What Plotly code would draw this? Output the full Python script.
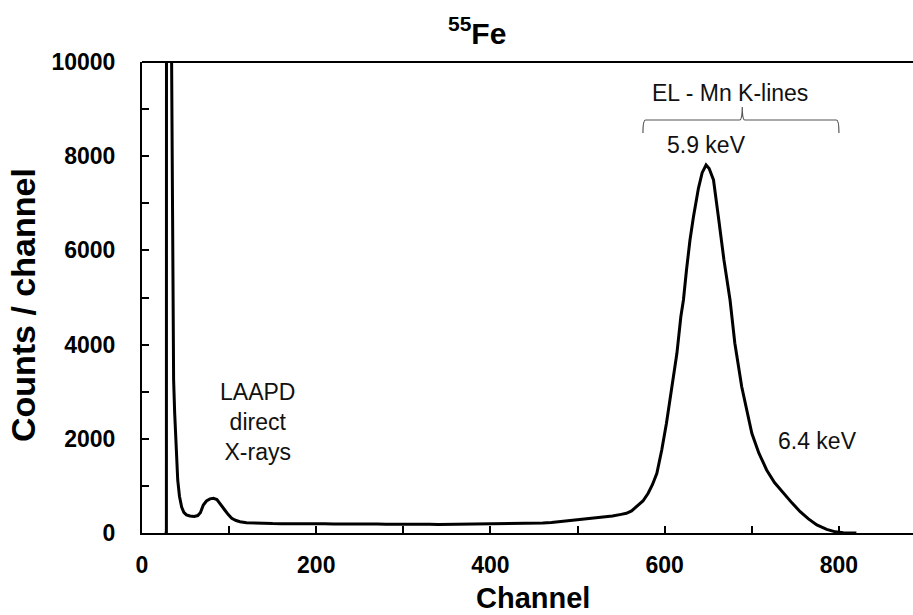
import plotly.graph_objects as go

# ---- data ----
channel = [26.0, 28.0, 28.3, 33.8, 34.0, 34.6, 35.5, 36.3, 37.5, 39, 41, 43, 45.5, 48, 51, 55, 60, 64, 67,
           70.4, 74, 78, 82, 86, 90, 95, 99, 103, 108, 112.5, 120, 130, 140, 150, 160, 170, 180, 190,
           200, 210, 220, 230, 240, 250, 260, 270, 280, 290, 300, 310, 320, 330, 340, 350, 360, 370,
           380, 390, 400, 410, 420, 430, 440, 450, 460, 470, 480, 490, 500, 510, 518, 530, 540, 550,
           556, 562, 568, 575, 581, 586, 591, 596.6, 602, 608, 614, 618.5, 621.5, 625, 629, 633, 638.7,
           643, 647.5, 651, 656, 661.6, 668, 675, 680.5, 688.4, 700, 708, 717, 726, 736, 746, 755.5,
           765, 774.6, 786, 796, 805, 820]
counts = [0, 0, 30000, 30000, 10000, 8200, 7200, 3250, 2550, 1800, 1125, 780, 550, 440, 385, 360, 350, 370, 430,
          594, 680, 725, 736, 710, 620, 488, 390, 312, 265, 240, 220, 210, 205, 200, 198, 200, 195, 197,
          193, 196, 190, 192, 188, 190, 186, 189, 185, 187, 183, 186, 182, 184, 181, 183, 180, 183,
          181, 184, 183, 186, 188, 192, 196, 202, 210, 222, 240, 258, 275, 295, 312, 335, 360, 395,
          418, 470, 558, 680, 843, 1030, 1267, 1762, 2329, 3036, 3815, 4592, 4947, 5584, 6221, 6716, 7318,
          7650, 7813, 7740, 7495, 6716, 5796, 4947, 4028, 3106, 2117, 1700, 1338, 1070, 843, 640, 452,
          300, 170, 78, 25, 5, 0]

x_range = [0, 885]
y_range = [0, 10000]

# annotation labels: (text, channel, counts)
labels = [
    ("LAAPD<br>direct<br>X-rays", 133, 2357),
    ("EL - Mn K-lines", 675, 9342),
    ("5.9 keV", 647.5, 8238),
    ("6.4 keV", 775, 1953),
]

# brace over the Mn K-lines: left end, cusp, right end (channel) and levels (counts)
brace_x = [575, 689, 800]
brace_y = [8493, 8769, 9045]

FONT = "Liberation Sans, Arial, sans-serif"

fig = go.Figure()
fig.add_trace(go.Scatter(x=channel, y=counts, mode="lines",
                         line=dict(color="black", width=3), showlegend=False,
                         hoverinfo="skip"))

for text, cx, cy in labels:
    fig.add_annotation(x=cx, y=cy, xref="x", yref="y", text=text, showarrow=False,
                       font=dict(family=FONT, size=23, color="#111111"),
                       xanchor="center", yanchor="middle", align="center")

# brace path
xl, xc, xr = brace_x
y0, y1, y2 = brace_y
d = 3
path = (f"M {xl},{y0} Q {xl},{y1} {xl+d},{y1} L {xc-d},{y1} Q {xc},{y1} {xc},{y2} "
        f"Q {xc},{y1} {xc+d},{y1} L {xr-d},{y1} Q {xr},{y1} {xr},{y0}")
fig.add_shape(type="path", path=path, xref="x", yref="y",
              line=dict(color="#555555", width=1.2))

# top border line
fig.add_shape(type="line", xref="paper", yref="paper", x0=0, x1=1, y0=1, y1=1,
              line=dict(color="black", width=2))

# title and axis titles
fig.add_annotation(text="<b><sup>55</sup>Fe</b>", xref="paper", yref="paper",
                   x=0.4345, y=1.066, showarrow=False, xanchor="center", yanchor="middle",
                   font=dict(family=FONT, size=30, color="black"))
fig.add_annotation(text="<b>Counts / channel</b>", xref="paper", yref="paper",
                   x=-0.1543, y=0.484, showarrow=False, textangle=-90,
                   xanchor="center", yanchor="middle",
                   font=dict(family=FONT, size=34, color="black"))
fig.add_annotation(text="<b>Channel</b>", xref="paper", yref="paper",
                   x=0.507, y=-0.139, showarrow=False, xanchor="center", yanchor="middle",
                   font=dict(family=FONT, size=29, color="black"))

fig.update_xaxes(range=x_range, dtick=200, tick0=0, ticks="inside", ticklen=7, tickwidth=2,
                 tickcolor="black", showline=True, linecolor="black", linewidth=2,
                 showgrid=False, zeroline=False, ticklabelstandoff=10,
                 tickfont=dict(family=FONT, size=23, color="black", weight="bold"),
                 minor=dict(dtick=100, ticks="inside", ticklen=7, tickwidth=2, tickcolor="black"))
fig.update_yaxes(range=y_range, dtick=2000, tick0=0, ticks="inside", ticklen=7, tickwidth=2,
                 tickcolor="black", showline=True, linecolor="black", linewidth=2,
                 showgrid=False, zeroline=False, ticklabelstandoff=20, tickformat="d",
                 tickfont=dict(family=FONT, size=23, color="black", weight="bold"),
                 minor=dict(dtick=1000, ticks="inside", ticklen=7, tickwidth=2, tickcolor="black"))

fig.update_layout(width=913, height=615, margin=dict(l=142, r=0, t=62, b=82),
                  plot_bgcolor="white", paper_bgcolor="white", showlegend=False)

fig.write_html("out.html")
